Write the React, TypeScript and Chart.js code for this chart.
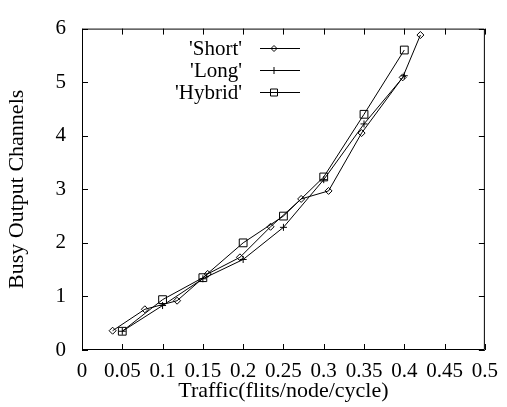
import React, { useEffect, useRef } from "react";
import { Chart, registerables } from "chart.js";

Chart.register(...registerables);

const shortX = [0.038, 0.078, 0.118, 0.156, 0.196, 0.234, 0.272, 0.306, 0.347, 0.398, 0.42];
const shortY = [0.36, 0.76, 0.92, 1.42, 1.73, 2.3, 2.82, 2.97, 4.05, 5.09, 5.88];
const longX = [0.05, 0.1, 0.15, 0.2, 0.25, 0.3, 0.35, 0.4];
const longY = [0.35, 0.83, 1.33, 1.69, 2.29, 3.18, 4.22, 5.12];
const hybridX = [0.05, 0.1, 0.15, 0.2, 0.25, 0.3, 0.35, 0.4];
const hybridY = [0.35, 0.94, 1.35, 2.0, 2.5, 3.23, 4.4, 5.6];
const seriesNames = ["'Short'", "'Long'", "'Hybrid'"];
const xTicks = [0, 0.05, 0.1, 0.15, 0.2, 0.25, 0.3, 0.35, 0.4, 0.45, 0.5];
const yTicks = [0, 1, 2, 3, 4, 5, 6];

const FONT = "'Liberation Serif', 'Times New Roman', serif";

const toPoints = (xs: number[], ys: number[]) => xs.map((x, i) => ({ x, y: ys[i] }));

const framePlugin = {
  id: "frameTicks",
  afterDraw(chart: any) {
    const { ctx, chartArea } = chart;
    const { left, right, top, bottom } = chartArea;
    const xs = chart.scales.x;
    const ys = chart.scales.y;
    ctx.save();
    ctx.strokeStyle = "#000";
    ctx.lineWidth = 1;
    ctx.beginPath();
    ctx.rect(left + 0.5, top + 0.5, right - left - 1, bottom - top - 1);
    ctx.stroke();
    const tl = 6;
    ctx.beginPath();
    xTicks.forEach((v) => {
      const px = Math.round(xs.getPixelForValue(v)) + 0.5;
      ctx.moveTo(px, bottom);
      ctx.lineTo(px, bottom - tl);
      ctx.moveTo(px, top);
      ctx.lineTo(px, top + tl);
    });
    yTicks.forEach((v) => {
      const py = Math.round(ys.getPixelForValue(v)) + 0.5;
      ctx.moveTo(left, py);
      ctx.lineTo(left + tl, py);
      ctx.moveTo(right, py);
      ctx.lineTo(right - tl, py);
    });
    ctx.stroke();

    // legend
    const rows = [48.5, 70.5, 92.5];
    const textRight = 242;
    const lineStart = 260;
    const lineEnd = 300;
    const markX = 274;
    ctx.font = `21px ${FONT}`;
    ctx.fillStyle = "#000";
    ctx.textAlign = "right";
    ctx.textBaseline = "middle";
    chart.data.datasets.forEach((ds: any, i: number) => {
      const y = rows[i];
      ctx.fillText(seriesNames[i], textRight, y + 1);
      ctx.beginPath();
      ctx.moveTo(lineStart, y);
      ctx.lineTo(lineEnd, y);
      ctx.stroke();
      ctx.beginPath();
      if (i === 0) {
        const r = 3;
        ctx.moveTo(markX, y - r);
        ctx.lineTo(markX + r, y);
        ctx.lineTo(markX, y + r);
        ctx.lineTo(markX - r, y);
        ctx.closePath();
      } else if (i === 1) {
        const r = 3.5;
        ctx.moveTo(markX, y - r);
        ctx.lineTo(markX, y + r);
      } else {
        const r = 3.5;
        ctx.rect(markX - r, y - r, 2 * r, 2 * r);
      }
      ctx.stroke();
    });
    ctx.restore();
  },
};

export default function App() {
  const ref = useRef<HTMLCanvasElement>(null);
  useEffect(() => {
    document.body.style.margin = "0";
    const base = {
      borderColor: "#000",
      borderWidth: 1,
      pointBorderColor: "#000",
      pointBackgroundColor: "rgba(0,0,0,0)",
      pointBorderWidth: 1,
      showLine: true,
      fill: false,
      tension: 0,
    };
    const chart = new Chart(ref.current as HTMLCanvasElement, {
      type: "scatter",
      data: {
        datasets: [
          { ...base, label: seriesNames[0], data: toPoints(shortX, shortY), pointStyle: "rectRot", pointRadius: 3.5 },
          { ...base, label: seriesNames[1], data: toPoints(longX, longY), pointStyle: "cross", pointRadius: 3.5 },
          { ...base, label: seriesNames[2], data: toPoints(hybridX, hybridY), pointStyle: "rect", pointRadius: 5.5 },
        ],
      },
      options: {
        animation: false,
        responsive: false,
        devicePixelRatio: 1,
        layout: { padding: { left: 0, top: 15, right: 14, bottom: 0 } },
        plugins: { legend: { display: false }, tooltip: { enabled: false } },
        scales: {
          x: {
            type: "linear",
            min: 0,
            max: 0.5,
            afterFit: (s: any) => {
              s.height = 57;
            },
            afterBuildTicks: (s: any) => {
              s.ticks = xTicks.map((v) => ({ value: v }));
            },
            grid: { display: false, drawTicks: false },
            border: { display: false },
            ticks: {
              padding: 9,
              color: "#000",
              font: { family: FONT, size: 21 },
              maxRotation: 0,
              autoSkip: false,
              callback: (v: any) => String(Number(Number(v).toFixed(2))),
            },
            title: {
              display: true,
              text: "Traffic(flits/node/cycle)",
              color: "#000",
              font: { family: FONT, size: 22 },
              padding: { top: 0, bottom: 3 },
            },
          },
          y: {
            type: "linear",
            min: 0,
            max: 6,
            afterFit: (s: any) => {
              s.width = 82;
            },
            afterBuildTicks: (s: any) => {
              s.ticks = yTicks.map((v) => ({ value: v }));
            },
            grid: { display: false, drawTicks: false },
            border: { display: false },
            ticks: {
              padding: 16,
              color: "#000",
              font: { family: FONT, size: 21 },
              autoSkip: false,
              callback: (v: any) => String(v),
            },
            title: {
              display: true,
              text: "Busy Output Channels",
              color: "#000",
              font: { family: FONT, size: 22 },
              padding: { top: 4, bottom: 0 },
            },
          },
        },
      },
      plugins: [framePlugin],
    });
    return () => chart.destroy();
  }, []);
  return (
    <div style={{ position: "absolute", left: 0, top: 0, width: 507, height: 407, background: "#fff" }}>
      <canvas ref={ref} width={507} height={407} style={{ display: "block" }} />
    </div>
  );
}
